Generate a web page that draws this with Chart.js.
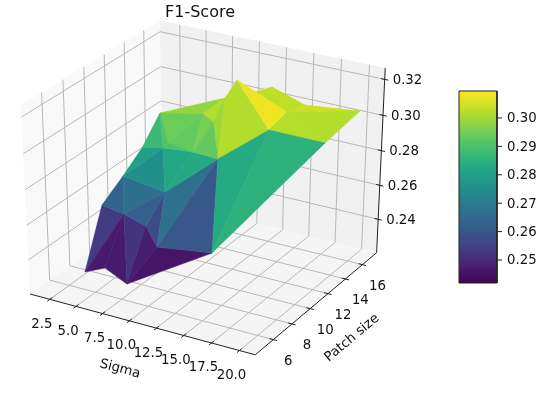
<!DOCTYPE html>
<html lang="en">
<head>
    <meta charset="UTF-8">
    <title>F1-Score</title>
    <script src="https://cdn.jsdelivr.net/npm/chart.js@4/dist/chart.umd.js"></script>
    <style>
        html, body { margin: 0; padding: 0; background: #fff; }
        canvas { display: block; }
    </style>
</head>
<body>
    <canvas id="chart" width="550" height="395"></canvas>

    <script>
        // surface points
        const sigma = [6.00, 7.00, 9.98, 8.60, 14.84, 4.17, 5.56, 8.51, 9.01, 4.27, 5.34, 6.33, 4.29, 7.51,
                       10.79, 11.78, 10.15, 10.36, 9.35, 16.52, 15.26, 11.73, 14.65, 20.84, 18.56, 8.65, 9.94];
        const patch = [4.06, 4.97, 3.96, 8.46, 7.17, 7.73, 8.43, 7.48, 8.89, 9.76, 10.58, 11.65, 13.59, 14.54,
                       11.87, 11.26, 10.51, 13.61, 16.06, 11.05, 14.52, 17.10, 17.29, 15.69, 14.76, 9.63, 17.36];
        const f1 = [0.2419, 0.2419, 0.2419, 0.2419, 0.2537, 0.2623, 0.2564, 0.2579, 0.2724, 0.2711, 0.2855, 0.2829, 0.2928, 0.2932,
                    0.3029, 0.2859, 0.2904, 0.3094, 0.3095, 0.3095, 0.3050, 0.3051, 0.2981, 0.3089, 0.2914, 0.2966, 0.2989];
        // triangles of the trisurf, indexes into the arrays above
        const triA = [0, 0, 1, 6, 7, 3, 7, 8, 15, 5, 9, 6, 9, 9, 11, 16, 10, 12, 13, 14, 17, 18, 12, 12, 25, 13, 14, 25, 26, 18, 21, 20, 20, 19, 15, 19];
        const triB = [5, 6, 6, 7, 3, 4, 8, 15, 4, 9, 8, 8, 11, 10, 16, 15, 12, 17, 17, 17, 18, 19, 13, 25, 13, 14, 15, 16, 21, 20, 22, 22, 23, 20, 19, 24];
        const triC = [6, 1, 2, 2, 2, 2, 3, 3, 3, 6, 6, 7, 8, 11, 8, 8, 11, 13, 14, 15, 15, 15, 25, 11, 16, 16, 16, 11, 20, 19, 20, 23, 24, 24, 4, 4];

        const sigmaTicks = [2.5, 5.0, 7.5, 10.0, 12.5, 15.0, 17.5, 20.0];
        const patchTicks = [6, 8, 10, 12, 14, 16];
        const f1Ticks = [0.24, 0.26, 0.28, 0.30, 0.32];
        const colorbarTicks = [0.25, 0.26, 0.27, 0.28, 0.29, 0.30];

        const sigmaLim = [0.6, 21.4];
        const patchLim = [4.1, 17.7];
        const f1Lim = [0.22, 0.3263];
        const colorLim = [0.2419, 0.3095];

        const viridis = ['#440154', '#482475', '#414487', '#355f8d', '#2a788e', '#21918c', '#22a884', '#44bf70', '#7ad151', '#bddf26', '#fde725'];

        // same camera as mplot3d: elev 30, azim -60, dist 10
        function project(s, p, v) {
            const a = (s - sigmaLim[0]) / (sigmaLim[1] - sigmaLim[0]) - 0.5;
            const b = (p - patchLim[0]) / (patchLim[1] - patchLim[0]) - 0.5;
            const c = (v - f1Lim[0]) / (f1Lim[1] - f1Lim[0]) - 0.5;
            const depth = 10 - (0.433 * a - 0.75 * b + 0.5 * c);
            return {
                x: 206 + 2600 * (0.866 * a + 0.5 * b) / depth,
                y: 182 - 2155 * (-0.25 * a + 0.433 * b + 0.866 * c) / depth
            };
        }

        function hexToRgb(h) {
            return [1, 3, 5].map(i => parseInt(h.slice(i, i + 2), 16));
        }
        function colorFor(v) {
            const t = Math.min(1, Math.max(0, (v - colorLim[0]) / (colorLim[1] - colorLim[0]))) * (viridis.length - 1);
            const i = Math.min(viridis.length - 2, Math.floor(t));
            const c0 = hexToRgb(viridis[i]), c1 = hexToRgb(viridis[i + 1]);
            const mix = c0.map((c, k) => Math.round(c + (c1[k] - c) * (t - i)));
            return 'rgb(' + mix.join(',') + ')';
        }

        const canvas = document.getElementById('chart');
        const ctx = canvas.getContext('2d');
        const sets = [];

        function addFill(points, color, edge) {
            sets.push({ data: points.concat([points[0]]), showLine: true, fill: 'shape', backgroundColor: color, borderColor: color, borderWidth: edge || 0, pointRadius: 0 });
        }
        function addLine(points, color, width) {
            sets.push({ data: points, showLine: true, fill: false, borderColor: color, borderWidth: width, pointRadius: 0 });
        }

        const [s0, s1] = sigmaLim, [p0, p1] = patchLim, [z0, z1] = f1Lim;

        // panes
        addFill([project(s0, p0, z0), project(s0, p1, z0), project(s0, p1, z1), project(s0, p0, z1)], '#f9f9f9');
        addFill([project(s0, p1, z0), project(s1, p1, z0), project(s1, p1, z1), project(s0, p1, z1)], '#f1f1f1');
        addFill([project(s0, p0, z0), project(s1, p0, z0), project(s1, p1, z0), project(s0, p1, z0)], '#f5f5f5');

        // grid
        const gridColor = '#b8b8b8';
        sigmaTicks.forEach(s => addLine([project(s, p0, z0), project(s, p1, z0), project(s, p1, z1)], gridColor, 1));
        patchTicks.forEach(p => addLine([project(s1, p, z0), project(s0, p, z0), project(s0, p, z1)], gridColor, 1));
        f1Ticks.forEach(v => addLine([project(s0, p0, v), project(s0, p1, v), project(s1, p1, v)], gridColor, 1));

        // surface
        triA.forEach((a, i) => {
            const idx = [a, triB[i], triC[i]];
            const mean = (f1[idx[0]] + f1[idx[1]] + f1[idx[2]]) / 3;
            addFill(idx.map(k => project(sigma[k], patch[k], f1[k])), colorFor(mean), 0.5);
        });

        // axis lines and ticks
        const axisColor = '#222';
        addLine([project(s0, p0, z0), project(s1, p0, z0), project(s1, p1, z0), project(s1, p1, z1)], axisColor, 1);
        const dp = (p1 - p0) * 0.018, ds = (s1 - s0) * 0.016;
        sigmaTicks.forEach(s => addLine([project(s, p0 - dp, z0), project(s, p0 + dp, z0)], axisColor, 1));
        patchTicks.forEach(p => addLine([project(s1 - ds, p, z0), project(s1 + ds, p, z0)], axisColor, 1));
        f1Ticks.forEach(v => addLine([project(s1 - ds, p1, v), project(s1 + ds, p1, v)], axisColor, 1));

        // colorbar
        const cbLeft = 459, cbRight = 497, cbTop = 91, cbBottom = 283;
        const cbY = v => cbBottom - (v - colorLim[0]) / (colorLim[1] - colorLim[0]) * (cbBottom - cbTop);
        const gradient = ctx.createLinearGradient(0, cbBottom, 0, cbTop);
        viridis.forEach((c, i) => gradient.addColorStop(i / (viridis.length - 1), c));
        const cbBox = [{ x: cbLeft, y: cbTop }, { x: cbRight, y: cbTop }, { x: cbRight, y: cbBottom }, { x: cbLeft, y: cbBottom }];
        addFill(cbBox, gradient);
        addLine(cbBox.concat([cbBox[0]]), '#222', 1);
        colorbarTicks.forEach(v => addLine([{ x: cbRight, y: cbY(v) }, { x: cbRight + 5, y: cbY(v) }], axisColor, 1));

        // higher order is drawn first
        sets.forEach((d, i) => { d.order = sets.length - i; d.tension = 0; d.clip = false; });

        const labelsPlugin = {
            id: 'labels',
            afterDraw(chart) {
                const c = chart.ctx;
                c.save();
                c.fillStyle = '#111';
                c.textAlign = 'center';
                c.textBaseline = 'middle';
                c.font = '16px "DejaVu Sans"';
                c.fillText('F1-Score', 200, 13);
                c.font = '13.3px "DejaVu Sans"';
                sigmaTicks.forEach(s => {
                    const t = project(s, p0, z0);
                    c.fillText(s.toFixed(1), t.x - 8, t.y + 25);
                });
                patchTicks.forEach(p => {
                    const t = project(s1, p, z0);
                    c.fillText(String(p), t.x + 15, t.y + 22);
                });
                c.textAlign = 'left';
                f1Ticks.forEach(v => {
                    const t = project(s1, p1, v);
                    c.fillText(v.toFixed(2), t.x + 8, t.y + 1);
                });
                colorbarTicks.forEach(v => c.fillText(v.toFixed(2), 507, cbY(v) + 1));
                c.textAlign = 'center';
                c.save();
                c.translate(120, 369);
                c.rotate(15 * Math.PI / 180);
                c.fillText('Sigma', 0, 0);
                c.restore();
                c.save();
                c.translate(352, 338);
                c.rotate(-40 * Math.PI / 180);
                c.fillText('Patch size', 0, 0);
                c.restore();
                c.restore();
            }
        };

        new Chart(ctx, {
            type: 'scatter',
            data: { datasets: sets },
            options: {
                responsive: false,
                animation: false,
                events: [],
                layout: { padding: 0 },
                plugins: { legend: { display: false }, tooltip: { enabled: false }, title: { display: false } },
                scales: {
                    x: { type: 'linear', display: false, min: 0, max: 550 },
                    y: { type: 'linear', display: false, min: 0, max: 395, reverse: true }
                }
            },
            plugins: [labelsPlugin]
        });
    </script>
</body>
</html>
